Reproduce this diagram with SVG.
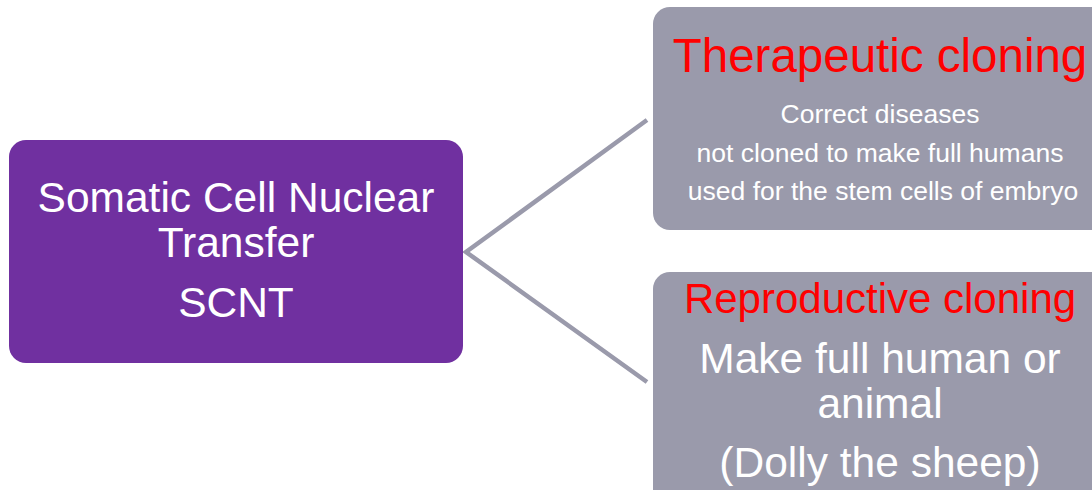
<svg xmlns="http://www.w3.org/2000/svg" width="1092" height="490" viewBox="0 0 1092 490">
<style>
.t{font-family:"Liberation Sans",Arial,sans-serif;text-anchor:middle}
.w{fill:#ffffff}
.r{fill:#ff0000}
</style>
<rect width="1092" height="490" fill="#ffffff"/>
<g id="connectors">
<polyline points="647,120 466,252 647,382" fill="none" stroke="#9a9aab" stroke-width="4.5"/>
</g>
<g id="scnt">
<rect x="9" y="140" width="454" height="223" rx="17" fill="#7030a0"/>
<text class="t w" x="236" y="212" font-size="42.5">Somatic Cell Nuclear</text>
<text class="t w" x="236" y="257" font-size="42.5">Transfer</text>
<text class="t w" x="236" y="317" font-size="42.5">SCNT</text>
</g>
<g id="therapeutic">
<rect x="653" y="7" width="460" height="223" rx="17" fill="#9a9aab"/>
<text class="t r" x="880" y="72" font-size="47.5">Therapeutic cloning</text>
<text class="t w" x="880" y="123" font-size="26.5">Correct diseases</text>
<text class="t w" x="880" y="162" font-size="26.5">not cloned to make full humans</text>
<text class="t w" x="883" y="200" font-size="26.5">used for the stem cells of embryo</text>
</g>
<g id="reproductive">
<rect x="653" y="272" width="460" height="240" rx="17" fill="#9a9aab"/>
<text class="t r" x="880" y="313" font-size="42">Reproductive cloning</text>
<text class="t w" x="880" y="373" font-size="42.5">Make full human or</text>
<text class="t w" x="880" y="418" font-size="42.5">animal</text>
<text class="t w" x="880" y="477" font-size="42.5">(Dolly the sheep)</text>
</g>
</svg>
